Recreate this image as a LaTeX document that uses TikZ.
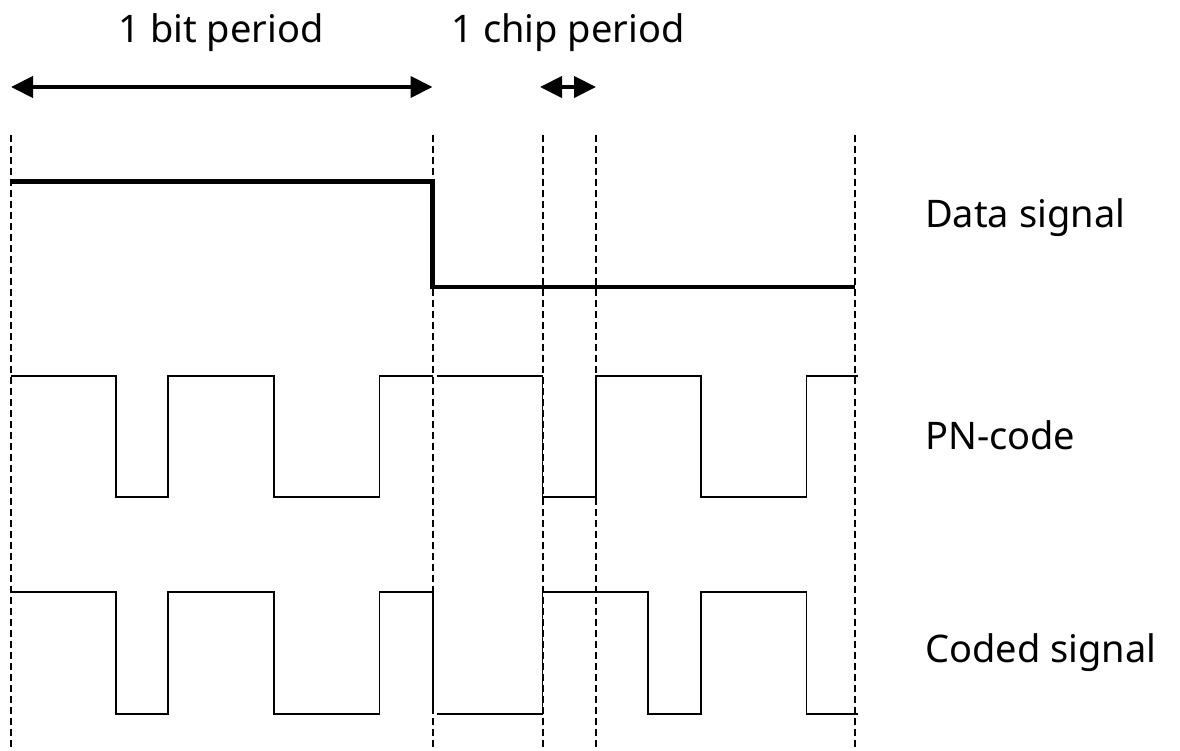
\documentclass[tikz,border=0pt]{standalone}
\usepackage{fontspec}
\setmainfont{Noto Sans}
\usetikzlibrary{arrows.meta}
\begin{document}
\begin{tikzpicture}[x=1pt,y=-1pt,
  sig/.style={line width=1.8pt,line join=miter},
  datasig/.style={line width=4.8pt,line join=miter},
  guide/.style={line width=2pt,dash pattern=on 7pt off 4pt},
  span/.style={line width=4.2pt,{Triangle[length=22pt,width=21pt]}-{Triangle[length=22pt,width=21pt]}},
  lbl/.style={font=\fontsize{38}{44}\selectfont,inner sep=0pt}]
\useasboundingbox (0,0) rectangle (1180,751);
% guide lines
\foreach \n/\x in {a/11,b/432.5,c/542.5,d/596,e/855}{
  \coordinate (\n top) at (\x,135);
  \coordinate (\n bot) at (\x,751);
  \draw[guide] (\n top) -- (\n bot);
}
% period arrows
\coordinate (bitL) at (11,87);
\coordinate (bitR) at (432.5,87);
\coordinate (chipL) at (540,87);
\coordinate (chipR) at (596,87);
\draw[span] (bitL) -- (bitR);
\draw[span] (chipL) -- (chipR);
\node[lbl,anchor=base] (bitlbl) at (221,43) {1 bit period};
\node[lbl,anchor=base] (chiplbl) at (568,43) {1 chip period};
% data signal
\draw[datasig] (11,181.5) -- (432.5,181.5) -- (432.5,287) -- (855,287);
% PN code
\draw[sig] (11,376) -- (116,376) -- (116,497) -- (168,497) -- (168,376) -- (274,376)
  -- (274,497) -- (379.5,497) -- (379.5,376) -- (433,376);
\draw[sig] (437,376) -- (542.5,376) -- (542.5,497) -- (596,497) -- (596,376) -- (701,376)
  -- (701,497) -- (806.5,497) -- (806.5,376) -- (858,376);
% coded signal
\draw[sig] (11,592) -- (116,592) -- (116,714) -- (168,714) -- (168,592) -- (274,592)
  -- (274,714) -- (379.5,714) -- (379.5,592) -- (433,592) -- (433,714);
\draw[sig] (437,714) -- (542.5,714) -- (542.5,592) -- (648,592) -- (648,714) -- (701,714)
  -- (701,592) -- (806.5,592) -- (806.5,714) -- (858,714);
% labels
\node[lbl,anchor=base west] (datalbl) at (925,228) {Data signal};
\node[lbl,anchor=base west] (pnlbl) at (925,449) {PN-code};
\node[lbl,anchor=base west] (codedlbl) at (925,662) {Coded signal};
\end{tikzpicture}
\end{document}
